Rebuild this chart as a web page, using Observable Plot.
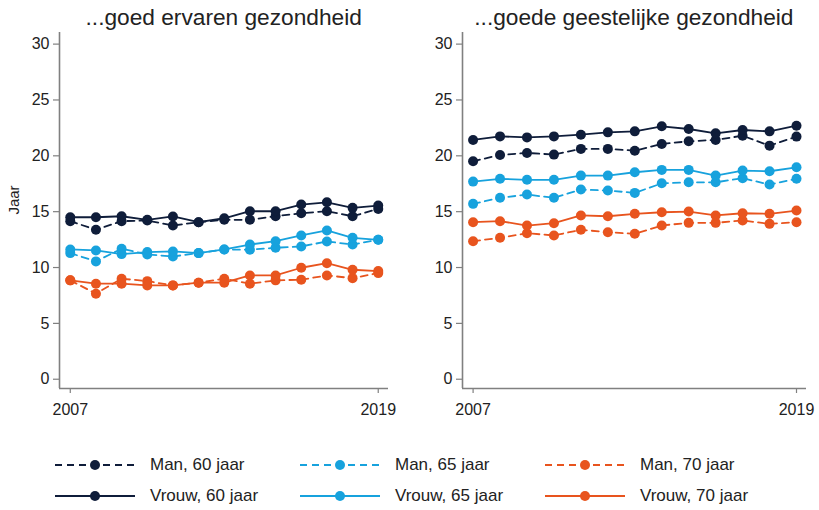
<!DOCTYPE html>
<html><head><meta charset="utf-8">
<script src="https://cdn.jsdelivr.net/npm/d3@7"></script>
<script src="https://cdn.jsdelivr.net/npm/@observablehq/plot@0.6"></script>
<style>
body{margin:0;background:#fff;font-family:"Liberation Sans",Arial,sans-serif;}
#wrap{position:relative;width:819px;height:510px;overflow:hidden;background:#fff;}
.panel{position:absolute;top:0;}
.title{position:absolute;top:6px;font-size:22.7px;line-height:22px;color:#222;white-space:nowrap;transform:translateX(-50%);}
.ylab{position:absolute;left:13px;top:200px;font-size:15px;color:#222;transform:translate(-50%,-50%) rotate(-90deg);white-space:nowrap;}
.leg{position:absolute;display:flex;align-items:center;font-size:17px;color:#222;white-space:nowrap;}
.leg svg{margin-right:15px;}
</style></head><body><div id="wrap"></div>
<script>
// ---- data ----
const years = [2007, 2008, 2009, 2010, 2011, 2012, 2013, 2014, 2015, 2016, 2017, 2018, 2019];
const panelTitles = ["...goed ervaren gezondheid", "...goede geestelijke gezondheid"];
const seriesNames = ["Man, 60 jaar", "Man, 65 jaar", "Man, 70 jaar", "Vrouw, 60 jaar", "Vrouw, 65 jaar", "Vrouw, 70 jaar"];
const seriesSex = ["Man", "Man", "Man", "Vrouw", "Vrouw", "Vrouw"];
const seriesAge = ["60", "65", "70", "60", "65", "70"];
const ageColors = ["#0f1d3a", "#17a2dd", "#e8541e"];
const yTicks = [0, 5, 10, 15, 20, 25, 30];
const xTicks = [2007, 2019];
const yLabel = "Jaar";

// left panel: goed ervaren gezondheid
const man60L   = [14.15, 13.38, 14.15, 14.21, 13.76, 14.06, 14.27, 14.27, 14.59, 14.86, 15.04, 14.59, 15.25];
const man65L   = [11.29, 10.55, 11.68, 11.17, 10.99, 11.29, 11.62, 11.59, 11.77, 11.89, 12.33, 12.06, 12.48];
const man70L   = [8.85, 7.66, 9.0, 8.78, 8.4, 8.64, 9.0, 8.55, 8.85, 8.91, 9.29, 9.05, 9.5];
const vrouw60L = [14.5, 14.5, 14.59, 14.27, 14.57, 14.06, 14.41, 15.04, 15.04, 15.64, 15.84, 15.34, 15.55];
const vrouw65L = [11.62, 11.53, 11.2, 11.38, 11.44, 11.29, 11.62, 12.06, 12.36, 12.87, 13.32, 12.66, 12.48];
const vrouw70L = [8.85, 8.55, 8.55, 8.4, 8.4, 8.64, 8.64, 9.29, 9.29, 9.98, 10.39, 9.8, 9.68];

// right panel: goede geestelijke gezondheid
const man60R   = [19.51, 20.08, 20.26, 20.11, 20.62, 20.62, 20.46, 21.06, 21.3, 21.42, 21.8, 20.91, 21.72];
const man65R   = [15.7, 16.24, 16.53, 16.24, 16.98, 16.89, 16.68, 17.54, 17.63, 17.63, 17.99, 17.43, 17.94];
const man70R   = [12.36, 12.66, 13.07, 12.87, 13.38, 13.16, 13.02, 13.76, 14.0, 14.0, 14.21, 13.91, 14.06];
const vrouw60R = [21.42, 21.74, 21.65, 21.74, 21.89, 22.1, 22.19, 22.64, 22.4, 22.01, 22.31, 22.19, 22.7];
const vrouw65R = [17.69, 17.94, 17.85, 17.85, 18.23, 18.23, 18.53, 18.74, 18.74, 18.23, 18.68, 18.62, 18.97];
const vrouw70R = [14.06, 14.15, 13.76, 13.97, 14.66, 14.59, 14.81, 14.95, 15.01, 14.66, 14.86, 14.81, 15.1];

const panelSeries = [
  [man60L, man65L, man70L, vrouw60L, vrouw65L, vrouw70L],
  [man60R, man65R, man70R, vrouw60R, vrouw65R, vrouw70R]
];

// ---- layout ----
const wrap = document.getElementById("wrap");
const layout = [
  {left: 0,   width: 410, marginLeft: 59, marginRight: 22, xDomain: [2006.58, 2019.4],   titleX: 223.7},
  {left: 410, width: 409, marginLeft: 52, marginRight: 13, xDomain: [2006.607, 2019.371], titleX: 633.9}
];
const yDomain = [-0.83, 31.04];
const axisColor = "#808080";
const textColor = "#222";

panelSeries.forEach((arrs, p) => {
  const rows = [];
  arrs.forEach((vals, s) => vals.forEach((v, i) => rows.push({
    year: years[i], value: v, series: seriesNames[s], sex: seriesSex[s], age: seriesAge[s]
  })));
  const L = layout[p];
  const chart = Plot.plot({
    width: L.width, height: 430,
    marginLeft: L.marginLeft, marginRight: L.marginRight, marginTop: 32, marginBottom: 42,
    style: {fontFamily: '"Liberation Sans", Arial, sans-serif', background: "transparent", color: textColor},
    x: {domain: L.xDomain, axis: null},
    y: {domain: yDomain, axis: null},
    color: {domain: ["60", "65", "70"], range: ageColors},
    marks: [
      Plot.ruleX([L.xDomain[0]], {stroke: axisColor, strokeWidth: 1.6}),
      Plot.ruleY([yDomain[0]], {stroke: axisColor, strokeWidth: 1.6}),
      Plot.axisY({ticks: yTicks, tickSize: 6, text: null, label: null, stroke: axisColor, strokeWidth: 1.2}),
      Plot.axisY({ticks: yTicks, tickSize: 0, tickPadding: 10, fontSize: 16, label: null, fill: textColor}),
      Plot.axisX({ticks: xTicks, tickSize: 5, text: null, label: null, stroke: axisColor, strokeWidth: 1.2}),
      Plot.axisX({ticks: xTicks, tickSize: 0, tickPadding: 15, fontSize: 16, label: null, tickFormat: "d", fill: textColor}),
      Plot.line(rows.filter(d => d.sex === "Man"), {x: "year", y: "value", z: "series", stroke: "age", strokeWidth: 1.8, strokeDasharray: "7,5"}),
      Plot.line(rows.filter(d => d.sex === "Vrouw"), {x: "year", y: "value", z: "series", stroke: "age", strokeWidth: 1.8}),
      Plot.dot(rows, {x: "year", y: "value", fill: "age", r: 5})
    ]
  });
  chart.classList.add("panel");
  chart.style.left = L.left + "px";
  wrap.appendChild(chart);

  const t = document.createElement("div");
  t.className = "title";
  t.style.left = L.titleX + "px";
  t.textContent = panelTitles[p];
  wrap.appendChild(t);
});

const yl = document.createElement("div");
yl.className = "ylab";
yl.textContent = yLabel;
wrap.appendChild(yl);

// ---- legend ----
const legCols = [55, 300, 545];
const legRows = [465, 496];
seriesNames.forEach((name, s) => {
  const col = ["60", "65", "70"].indexOf(seriesAge[s]);
  const row = seriesSex[s] === "Man" ? 0 : 1;
  const item = document.createElement("div");
  item.className = "leg";
  item.style.left = legCols[col] + "px";
  item.style.top = (legRows[row] - 10) + "px";
  item.style.height = "20px";
  const svg = d3.create("svg").attr("width", 80).attr("height", 20);
  svg.append("line").attr("x1", 0).attr("x2", 80).attr("y1", 10).attr("y2", 10)
    .attr("stroke", ageColors[col]).attr("stroke-width", 1.8)
    .attr("stroke-dasharray", row === 0 ? "7,5" : null);
  svg.append("circle").attr("cx", 40).attr("cy", 10).attr("r", 5).attr("fill", ageColors[col]);
  item.appendChild(svg.node());
  const lab = document.createElement("span");
  lab.textContent = name;
  item.appendChild(lab);
  wrap.appendChild(item);
});
</script></body></html>
